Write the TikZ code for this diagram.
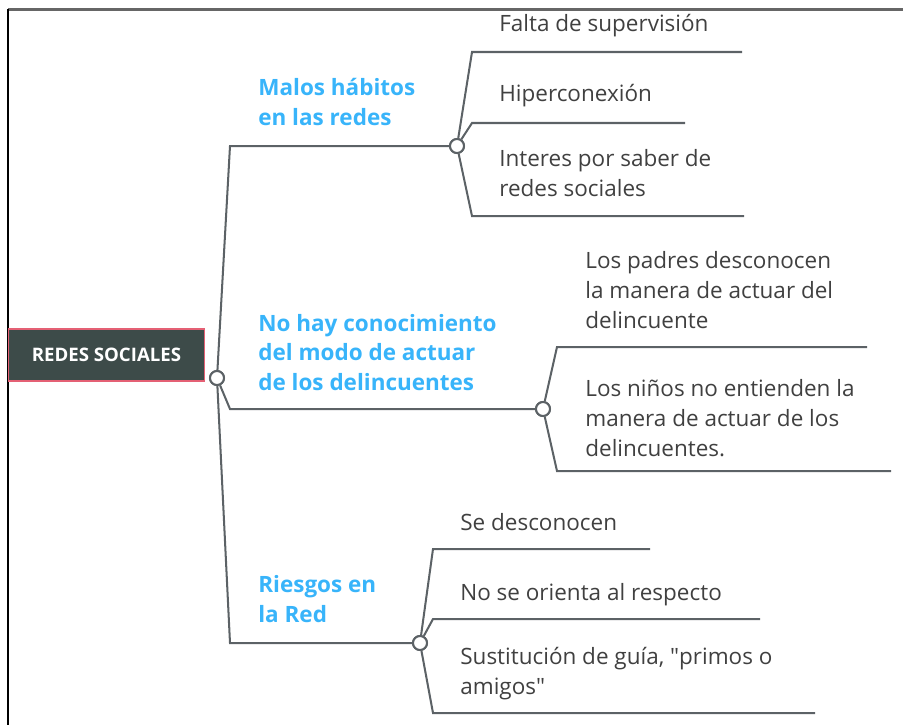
\documentclass[tikz,border=0pt]{standalone}
\usepackage{fontspec}
\setmainfont{Open Sans}
\usepackage{xcolor}
\definecolor{linea}{RGB}{92,98,102}
\definecolor{texto}{RGB}{64,64,64}
\definecolor{azul}{RGB}{56,180,250}
\definecolor{raiz}{RGB}{61,75,73}
\definecolor{borde}{RGB}{228,96,116}

\begin{document}
\begin{tikzpicture}[x=0.02cm,y=-0.02cm,
    rama/.style={draw=linea,line width=1.15pt},
    hub/.style={circle,draw=linea,fill=white,line width=1.15pt,minimum size=0.28cm,inner sep=0pt},
    hoja/.style={anchor=base west,inner sep=0pt,align=left,text=texto,font=\fontsize{12.8}{17}\selectfont},
    tema/.style={hoja,text=azul,font=\fontsize{12.8}{16.6}\selectfont\bfseries}]
    \useasboundingbox (0,0) rectangle (903,725);

    % Marco
    \draw[line width=1.5pt,black!60] (8,9.5) -- (903,9.5);
    \draw[line width=1.1pt,black] (8,9) -- (8,725);

    % Nodo central
    \node[draw=borde,fill=raiz,line width=1pt,minimum width=3.92cm,minimum height=1.04cm,
          text=white,font=\fontsize{10.6}{12}\selectfont\bfseries] (redes) at (106.5,355) {REDES SOCIALES};

    % Puntos de quiebre
    \coordinate (b1) at (230,146);
    \coordinate (b2) at (230,409);
    \coordinate (b3) at (230,643);
    \coordinate (q1) at (472,52);   \coordinate (e1) at (742,52);
    \coordinate (q2) at (472,123);  \coordinate (e2) at (685,123);
    \coordinate (q3) at (472,216);  \coordinate (e3) at (744,216);
    \coordinate (q4) at (557,347);  \coordinate (e4) at (867,347);
    \coordinate (q5) at (557,471);  \coordinate (e5) at (891,471);
    \coordinate (q6) at (433,549);  \coordinate (e6) at (650,549);
    \coordinate (q7) at (433,619);  \coordinate (e7) at (760,619);
    \coordinate (q8) at (433,713);  \coordinate (e8) at (815,713);

    % Nodos de union
    \node[hub] (h0) at (217,378) {};
    \node[hub] (h1) at (457,146) {};
    \node[hub] (h2) at (543,409) {};
    \node[hub] (h3) at (420,643) {};

    % Ramas principales
    \draw[rama] (h0) -- (b1) -- (h1);
    \draw[rama] (h0) -- (b2) -- (h2);
    \draw[rama] (h0) -- (b3) -- (h3);

    % Ramas secundarias
    \foreach \h/\q/\e in {h1/q1/e1,h1/q2/e2,h1/q3/e3,h2/q4/e4,h2/q5/e5,h3/q6/e6,h3/q7/e7,h3/q8/e8}
        \draw[rama] (\h) -- (\q) -- (\e);

    % Se redibujan los circulos encima
    \foreach \h in {h0,h1,h2,h3}
        \node[hub] at (\h) {};

    % Temas (la base es la de la ultima linea)
    \node[tema] (t1) at (258,125) {Malos hábitos\\en las redes};
    \node[tema] (t2) at (258,390) {No hay conocimiento\\del modo de actuar\\de los delincuentes};
    \node[tema] (t3) at (258,622) {Riesgos en\\la Red};

    % Hojas
    \node[hoja] (f1) at (499,31) {Falta de supervisión};
    \node[hoja] (f2) at (499,101) {Hiperconexión};
    \node[hoja] (f3) at (499,196) {Interes por saber de\\redes sociales};
    \node[hoja] (f4) at (585,328) {Los padres desconocen\\la manera de actuar del\\delincuente};
    \node[hoja] (f5) at (585,456) {Los niños no entienden la\\manera de actuar de los\\delincuentes.};
    \node[hoja] (f6) at (460,530) {Se desconocen};
    \node[hoja] (f7) at (460,600) {No se orienta al respecto};
    \node[hoja] (f8) at (460,694) {Sustitución de guía, \textquotedbl primos o\\amigos\textquotedbl};
\end{tikzpicture}
\end{document}
